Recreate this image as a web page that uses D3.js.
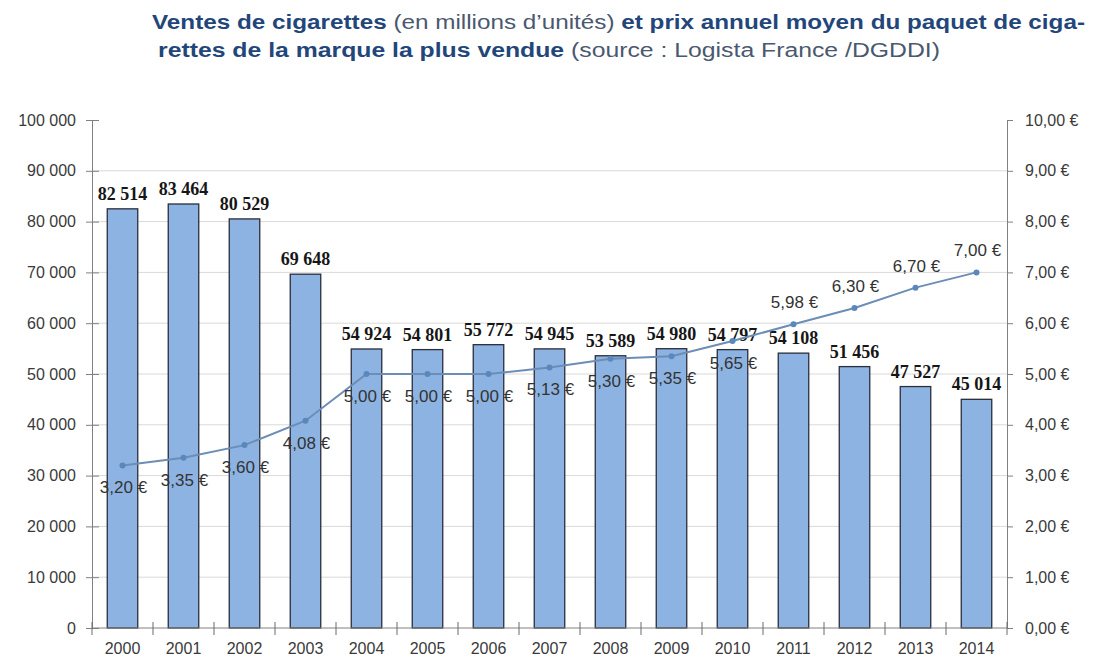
<!DOCTYPE html>
<html><head><meta charset="utf-8">
<script src="https://cdn.jsdelivr.net/npm/d3@7"></script>
<style>
html,body{margin:0;padding:0;background:#fff;}
svg{display:block;font-family:"Liberation Sans",Arial,sans-serif;}
</style></head>
<body><svg id="c" width="1093" height="658"></svg>
<script>
const years = ["2000","2001","2002","2003","2004","2005","2006","2007","2008","2009","2010","2011","2012","2013","2014"];
const sales = [82514,83464,80529,69648,54924,54801,55772,54945,53589,54980,54797,54108,51456,47527,45014];
const prices = [3.20,3.35,3.60,4.08,5.00,5.00,5.00,5.13,5.30,5.35,5.65,5.98,6.30,6.70,7.00];
const priceLabelAbove = [false,false,false,false,false,false,false,false,false,false,false,true,true,true,true];
const salesTicks = [0,10000,20000,30000,40000,50000,60000,70000,80000,90000,100000];
const priceTicks = [0,1,2,3,4,5,6,7,8,9,10];

const svg = d3.select("#c");
const m = {l:92, r:1007, t:120, b:628};

const x = d3.scaleBand().domain(years).range([m.l, m.r]).paddingInner(0.5).paddingOuter(0.25);
const y = d3.scaleLinear().domain([0,100000]).range([m.b, m.t]);
const y2 = d3.scaleLinear().domain([0,10]).range([m.b, m.t]);

const fmtInt = v => d3.format(",")(v).replace(/,/g, " ");
const fmtEur = v => d3.format(".2f")(v).replace(".", ",") + " €";

// Title
const title = svg.append("text").attr("x",152).attr("y",29).attr("font-size",20)
  .attr("textLength",933).attr("lengthAdjust","spacingAndGlyphs");
title.append("tspan").attr("font-weight","bold").attr("fill","#23467a").text("Ventes de cigarettes");
title.append("tspan").attr("fill","#4a5870").text(" (en millions d’unités) ");
title.append("tspan").attr("font-weight","bold").attr("fill","#23467a").text("et prix annuel moyen du paquet de ciga-");
const title2 = svg.append("text").attr("x",158).attr("y",57).attr("font-size",20)
  .attr("textLength",782).attr("lengthAdjust","spacingAndGlyphs");
title2.append("tspan").attr("font-weight","bold").attr("fill","#23467a").text("rettes de la marque la plus vendue");
title2.append("tspan").attr("fill","#4a5870").text(" (source : Logista France /DGDDI)");

// Gridlines
svg.append("g").selectAll("line").data(salesTicks.filter(d => d>0 && d<100000)).join("line")
  .attr("x1",m.l).attr("x2",m.r).attr("y1",d=>y(d)).attr("y2",d=>y(d))
  .attr("stroke","#d9d9d9").attr("stroke-width",1);

// Bars
svg.append("g").selectAll("rect").data(sales).join("rect")
  .attr("x",(d,i)=>x(years[i])).attr("width",x.bandwidth())
  .attr("y",d=>y(d)).attr("height",d=>m.b-y(d))
  .attr("fill","#8db3e2").attr("stroke","#2a2d3a").attr("stroke-width",1.3);

// Left axis
const gl = svg.append("g").attr("transform",`translate(${m.l},0)`)
  .call(d3.axisLeft(y).tickValues(salesTicks).tickFormat(fmtInt).tickSize(6).tickPadding(10));
gl.selectAll(".tick line").attr("x1",7);
// Right axis
const gr = svg.append("g").attr("transform",`translate(${m.r},0)`)
  .call(d3.axisRight(y2).tickValues(priceTicks).tickFormat(fmtEur).tickSize(6).tickPadding(12));
// Bottom axis
const gb = svg.append("g").attr("transform",`translate(0,${m.b})`)
  .call(d3.axisBottom(x).tickSize(0).tickPadding(15));
gb.selectAll(".tick text").attr("dy","0.71em");
// Boundary ticks
const step = x.step();
svg.append("g").selectAll("line").data(d3.range(years.length+1)).join("line")
  .attr("x1",i=>m.l+i*step).attr("x2",i=>m.l+i*step)
  .attr("y1",m.b-6).attr("y2",m.b+7).attr("stroke","#6b6b6b");

[gl,gr,gb].forEach(g=>{
  g.selectAll(".domain").attr("stroke","#808080");
  g.selectAll(".tick line").attr("stroke","#808080");
  g.selectAll(".tick text").attr("font-size",16).attr("fill","#3a3a3a")
    .attr("font-family","'Liberation Sans',Arial,sans-serif");
});
gb.selectAll(".domain").attr("d",`M${m.l},0H${m.r}`);

// Bar value labels
svg.append("g").selectAll("text").data(sales).join("text")
  .attr("x",(d,i)=>x(years[i])+x.bandwidth()/2).attr("y",d=>y(d)-9)
  .attr("text-anchor","middle").attr("font-family","'Liberation Serif','Times New Roman',serif")
  .attr("font-weight","bold").attr("font-size",18).attr("fill","#161616")
  .text(fmtInt);

// Price line
const cx = i => x(years[i]) + x.bandwidth()/2;
svg.append("path").datum(prices)
  .attr("d", d3.line().x((d,i)=>cx(i)).y(d=>y2(d)))
  .attr("fill","none").attr("stroke","#6c8db5").attr("stroke-width",2);
svg.append("g").selectAll("circle").data(prices).join("circle")
  .attr("cx",(d,i)=>cx(i)).attr("cy",d=>y2(d)).attr("r",3)
  .attr("fill","#5a88bd");
svg.append("g").selectAll("text").data(prices).join("text")
  .attr("x",(d,i)=>cx(i)+1)
  .attr("y",(d,i)=>priceLabelAbove[i] ? y2(d)-16 : y2(d)+28)
  .attr("text-anchor","middle").attr("font-size",17).attr("fill","#333")
  .text(fmtEur);
</script></body></html>
